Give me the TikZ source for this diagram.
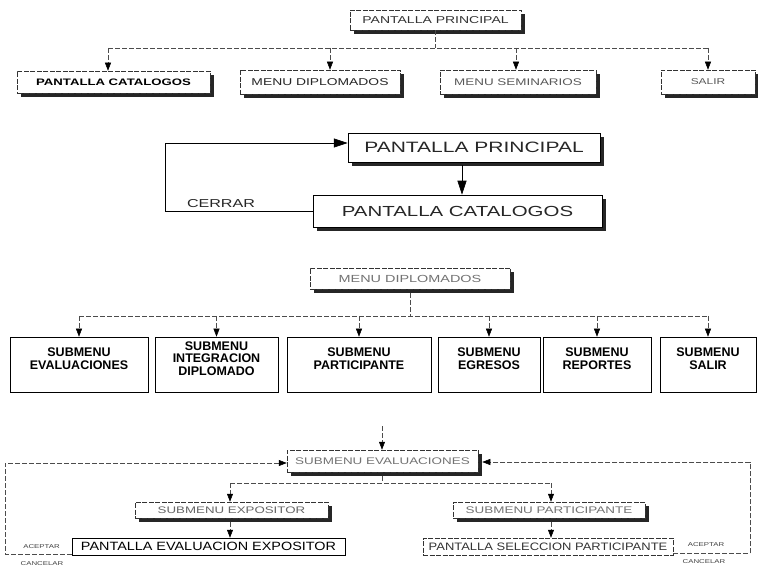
\documentclass[tikz,border=0pt]{standalone}
\usepackage{fontspec}
\setmainfont{Liberation Sans}
\newfontfamily\wfA[FakeStretch=1.4]{Liberation Sans}
\newfontfamily\wfB[FakeStretch=1.2]{Liberation Sans}
\usetikzlibrary{arrows.meta,shadows}
\begin{document}
\begin{tikzpicture}[x=1pt,y=-1pt,
  box/.style={draw=black!80, fill=white, line width=0.5pt, inner sep=0pt, anchor=center},
  dbox/.style={box, dash pattern=on 5pt off 1.5pt},
  shd/.style={drop shadow={shadow xshift=4pt, shadow yshift=-4pt, fill=black!85, opacity=1}},
  sbox/.style={draw=black, fill=white, line width=0.6pt, inner sep=0pt, minimum height=55pt},
  stext/.style={font=\bfseries\fontsize{12.5}{12.8}\selectfont, align=center, inner sep=0pt},
  dl/.style={draw=black!70, line width=0.5pt, dash pattern=on 5pt off 2pt},
  dar/.style={dl, -{Triangle[length=8pt,width=6pt,black]}},
  sl/.style={draw=black, line width=0.7pt},
  bar/.style={sl, -{Triangle[length=14pt,width=9pt,black]}},
  lbl/.style={font=\wfA\fontsize{5.6}{7}\selectfont, text=black!75, inner sep=0pt}
]
\fill[white] (0,0) rectangle (758,569);
\useasboundingbox (0,0) rectangle (758,569);

% ---------- Section 1 ----------
\node[dbox, shd, minimum width=171pt, minimum height=20pt, font=\wfA\fontsize{10}{12}\selectfont, text=black!80] (pp1) at (435.5,20) {PANTALLA PRINCIPAL};
\node[dbox, shd, minimum width=193pt, minimum height=22pt, font=\wfA\bfseries\fontsize{9.4}{11}\selectfont] (pc1) at (113.5,82) {PANTALLA CATALOGOS};
\node[dbox, shd, minimum width=160pt, minimum height=24pt, font=\wfA\fontsize{9.9}{11}\selectfont, text=black!85] (md1) at (320,82) {MENU DIPLOMADOS};
\node[dbox, shd, minimum width=156pt, minimum height=24pt, font=\wfA\fontsize{9.6}{11}\selectfont, text=black!65] (ms1) at (518,82) {MENU SEMINARIOS};
\node[dbox, shd, minimum width=94pt, minimum height=24pt, font=\wfA\fontsize{8.5}{10}\selectfont, text=black!65] (sa1) at (708,82) {SALIR};

\coordinate (c1a) at (108,48);
\coordinate (c1b) at (330,48);
\coordinate (c1c) at (516,48);
\coordinate (c1d) at (708,48);
\draw[dl] (c1a) -- (c1d);
\draw[dl] (pp1.south) -- (pp1.south |- c1a);
\draw[dar] (c1a) -- (c1a |- pc1.north);
\draw[dar] (c1b) -- (c1b |- md1.north);
\draw[dar] (c1c) -- (c1c |- ms1.north);
\draw[dar] (c1d) -- (c1d |- sa1.north);

% ---------- Section 2 ----------
\node[box, draw=black, shd, minimum width=252pt, minimum height=29pt, font=\wfA\fontsize{15}{17}\selectfont, text=black!85] (pp2) at (474,147.5) {PANTALLA PRINCIPAL};
\node[box, draw=black, shd, minimum width=289pt, minimum height=32pt, font=\wfA\fontsize{14.6}{17}\selectfont, text=black!85] (pc2) at (457.5,211) {PANTALLA CATALOGOS};
\coordinate (a2) at (462,0);
\draw[bar] ([yshift=-3pt]pp2.south -| a2) -- (pc2.north -| a2);
\coordinate (t2) at (165,143);
\draw[bar] (pc2.west) -| (t2) -- (t2 -| pp2.west);
\node[font=\wfA\fontsize{11.5}{13}\selectfont, text=black!85, inner sep=0pt] (cer) at (221,204) {CERRAR};

% ---------- Section 3 ----------
\node[dbox, shd, minimum width=200pt, minimum height=21pt, font=\wfA\fontsize{10.3}{12}\selectfont, text=black!55] (md3) at (410,278.5) {MENU DIPLOMADOS};
\node[sbox, minimum width=138pt] (s1) at (79,364.5) {};
\node[sbox, minimum width=123pt] (s2) at (216.5,364.5) {};
\node[sbox, minimum width=144pt] (s3) at (359,364.5) {};
\node[sbox, minimum width=102pt] (s4) at (489,364.5) {};
\node[sbox, minimum width=108pt] (s5) at (597,364.5) {};
\node[sbox, minimum width=96pt] (s6) at (708,364.5) {};
\node[stext] (s1t) at ([yshift=6pt]s1.center) {SUBMENU\\EVALUACIONES};
\node[stext] (s2t) at ([yshift=6pt]s2.center) {SUBMENU\\INTEGRACION\\DIPLOMADO};
\node[stext] (s3t) at ([yshift=6pt]s3.center) {SUBMENU\\PARTICIPANTE};
\node[stext] (s4t) at ([yshift=6pt]s4.center) {SUBMENU\\EGRESOS};
\node[stext] (s5t) at ([yshift=6pt]s5.center) {SUBMENU\\REPORTES};
\node[stext] (s6t) at ([yshift=6pt]s6.center) {SUBMENU\\SALIR};

\coordinate (h3) at (0,316);
\draw[dl] (s1.north |- h3) -- (s6.north |- h3);
\draw[dl] ([yshift=-4pt]md3.south) -- (md3.south |- h3);
\foreach \s in {s1,s2,s3,s4,s5,s6}{
  \draw[dar] (\s.north |- h3) -- (\s.north);
}

% ---------- Section 4 ----------
\coordinate (in4) at (382,426);
\node[dbox, shd, minimum width=191pt, minimum height=22pt, font=\wfA\fontsize{9.6}{11}\selectfont, text=black!55] (sev) at (382.5,461) {SUBMENU EVALUACIONES};
\node[dbox, shd, minimum width=193pt, minimum height=16pt, font=\wfA\fontsize{9.5}{11}\selectfont, text=black!60] (sex) at (231.5,510) {SUBMENU EXPOSITOR};
\node[dbox, shd, minimum width=192pt, minimum height=16pt, font=\wfA\fontsize{9.6}{11}\selectfont, text=black!55] (spa) at (549,510) {SUBMENU PARTICIPANTE};
\node[box, draw=black, minimum width=273pt, minimum height=17pt, font=\wfB\fontsize{12}{14}\selectfont] (pee) at (208.5,546.5) {PANTALLA EVALUACION EXPOSITOR};
\node[dbox, minimum width=250pt, minimum height=17pt, font=\wfB\fontsize{10.8}{13}\selectfont, text=black!80] (psp) at (548,546.5) {PANTALLA SELECCION PARTICIPANTE};

\draw[dar] (in4) -- (in4 |- sev.north);
\coordinate (bl) at (230,483);
\coordinate (br) at (551,483);
\draw[dl] (bl) -- (br);
\draw[dl] ([yshift=-4pt]sev.south) -- (sev.south |- bl);
\draw[dar] (bl) -- (bl |- sex.north);
\draw[dar] (br) -- (br |- spa.north);
\draw[dar] ([yshift=-4pt]sex.south -| bl) -- (pee.north -| bl);
\draw[dar] ([yshift=-4pt]spa.south -| br) -- (psp.north -| br);

\coordinate (ll) at (5,463);
\draw[dar] ([yshift=-7.5pt]pee.west) -| (ll) -- (ll -| sev.west);
\coordinate (rl) at (750,462);
\draw[dar] ([yshift=-7pt]psp.east) -| (rl) -- ([xshift=4pt]rl -| sev.east);

\node[lbl] (acl) at (41.5,547) {ACEPTAR};
\node[lbl] (cal) at (42,564) {CANCELAR};
\node[lbl] (acr) at (706,545) {ACEPTAR};
\node[lbl] (car) at (704,562) {CANCELAR};
\end{tikzpicture}
\end{document}
